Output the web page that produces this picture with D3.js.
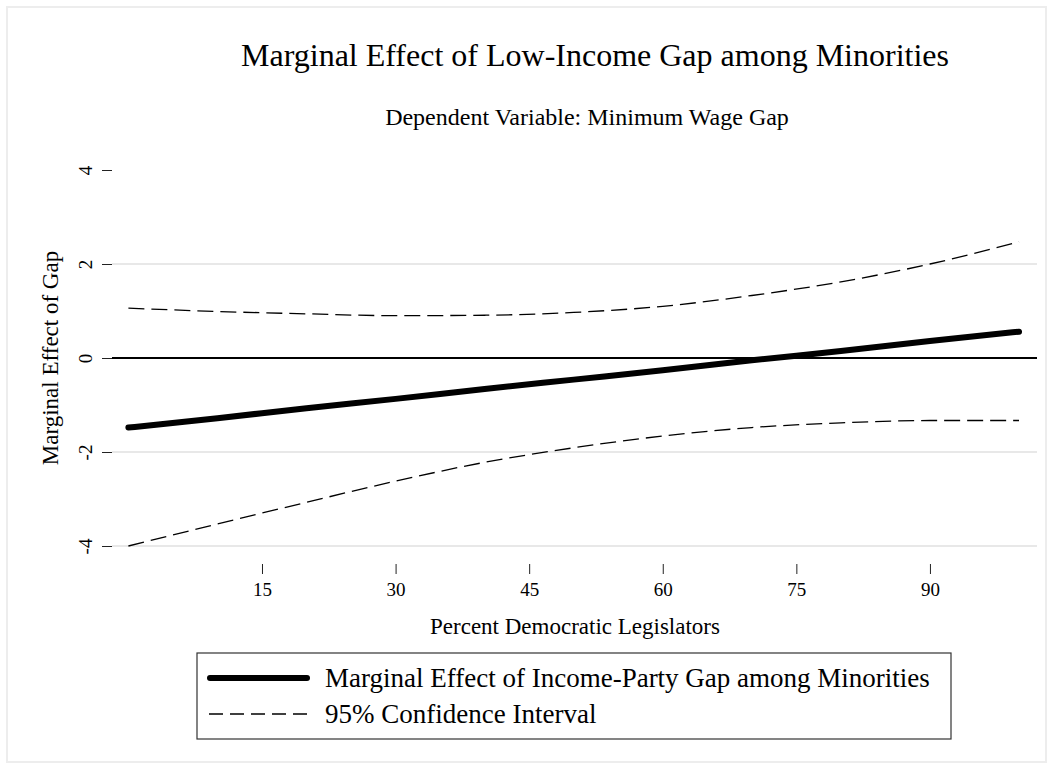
<!DOCTYPE html>
<html>
<head>
<meta charset="utf-8">
<script src="https://cdn.jsdelivr.net/npm/d3@7"></script>
<style>
  html, body { margin: 0; padding: 0; background: #fff; }
  svg { display: block; }
</style>
</head>
<body>
<svg id="chart" width="1053" height="769"></svg>
<script>
// Percent Democratic legislators (x) and the estimated marginal effect with its 95% CI
const pctDem   = [0, 10, 20, 30, 40, 50, 60, 70, 80, 90, 100];
const effect   = [-1.48, -1.28, -1.07, -0.87, -0.66, -0.46, -0.26, -0.05, 0.15, 0.36, 0.56];
const ciUpper  = [1.06, 0.99, 0.94, 0.90, 0.91, 0.97, 1.10, 1.33, 1.62, 2.00, 2.47];
const ciLower  = [-4.00, -3.53, -3.07, -2.62, -2.22, -1.91, -1.66, -1.48, -1.38, -1.33, -1.33];

const xTicks = [15, 30, 45, 60, 75, 90];
const yTicks = [-4, -2, 0, 2, 4];
const yGrid  = [-4, -2, 2];

const titleText    = "Marginal Effect of Low-Income Gap among Minorities";
const subtitleText = "Dependent Variable: Minimum Wage Gap";
const xTitleText   = "Percent Democratic Legislators";
const yTitleText   = "Marginal Effect of Gap";
const legendLabels = ["Marginal Effect of Income-Party Gap among Minorities", "95% Confidence Interval"];

const SERIF = "'Liberation Serif', 'Times New Roman', 'DejaVu Serif', serif";

const svg = d3.select("#chart");

// outer graph frame
svg.append("rect")
  .attr("x", 7).attr("y", 7).attr("width", 1039).attr("height", 755)
  .attr("fill", "#fff").attr("stroke", "#ededed").attr("stroke-width", 2);

// plot region bounds
const plotLeft = 112, plotRight = 1037;

const x = d3.scaleLinear().domain([0, 100]).range([128.4, 1019]);
const y = d3.scaleLinear().domain([-4, 4]).range([546, 170]);

function label(sel, str, size) {
  return sel.append("text")
    .attr("font-family", SERIF).attr("font-size", size).attr("fill", "#000")
    .attr("text-anchor", "middle")
    .text(str);
}

// plain ASCII hyphen for negative tick values
const plainNum = d => String(d);

// horizontal grid lines
svg.append("g").selectAll("line").data(yGrid).join("line")
  .attr("x1", plotLeft).attr("x2", plotRight)
  .attr("y1", d => y(d)).attr("y2", d => y(d))
  .attr("stroke", "#e8e8e8").attr("stroke-width", 2);

// reference line at zero
svg.append("line")
  .attr("x1", plotLeft).attr("x2", plotRight)
  .attr("y1", y(0)).attr("y2", y(0))
  .attr("stroke", "#000").attr("stroke-width", 2);

// y axis: ticks outside the plot region, labels rotated
const yAxis = d3.axisLeft(y).tickValues(yTicks).tickSize(10).tickPadding(8).tickFormat(plainNum);
const gy = svg.append("g").attr("transform", `translate(${plotLeft},0)`).call(yAxis);
gy.attr("font-family", SERIF);
gy.select(".domain").remove();
gy.selectAll(".tick line").attr("stroke", "#222").attr("stroke-width", 1);
gy.selectAll(".tick text")
  .attr("font-size", 19)
  .attr("text-anchor", "middle")
  .attr("x", null).attr("dy", null)
  .attr("transform", "translate(-20,0) rotate(-90)")
  .attr("y", 0);

// x axis below the plot region
const xAxis = d3.axisBottom(x).tickValues(xTicks).tickSize(10).tickPadding(9).tickFormat(plainNum);
const gx = svg.append("g").attr("transform", "translate(0,564)").call(xAxis);
gx.attr("font-family", SERIF);
gx.select(".domain").remove();
gx.selectAll(".tick line").attr("stroke", "#222").attr("stroke-width", 1);
gx.selectAll(".tick text").attr("font-size", 19);

// axis titles
label(svg, xTitleText, 23).attr("x", 575).attr("y", 634);
label(svg, yTitleText, 23).attr("transform", "translate(58,358) rotate(-90)");

// titles
label(svg, titleText, 32).attr("x", 595).attr("y", 66);
label(svg, subtitleText, 24).attr("x", 587).attr("y", 125);

// curves
const line = vals => d3.line().x((d, i) => x(pctDem[i])).y(d => y(d)).curve(d3.curveMonotoneX)(vals);

svg.append("path").attr("d", line(ciUpper))
  .attr("fill", "none").attr("stroke", "#000").attr("stroke-width", 1.3)
  .attr("stroke-dasharray", "16,7");
svg.append("path").attr("d", line(ciLower))
  .attr("fill", "none").attr("stroke", "#000").attr("stroke-width", 1.3)
  .attr("stroke-dasharray", "16,7");
svg.append("path").attr("d", line(effect))
  .attr("fill", "none").attr("stroke", "#000").attr("stroke-width", 6)
  .attr("stroke-linecap", "round");

// legend
const lg = svg.append("g");
lg.append("rect")
  .attr("x", 197).attr("y", 653).attr("width", 754).attr("height", 86)
  .attr("fill", "#fff").attr("stroke", "#333").attr("stroke-width", 1.2);
lg.append("line")
  .attr("x1", 210).attr("x2", 307).attr("y1", 678).attr("y2", 678)
  .attr("stroke", "#000").attr("stroke-width", 6).attr("stroke-linecap", "round");
lg.append("line")
  .attr("x1", 209).attr("x2", 308).attr("y1", 714).attr("y2", 714)
  .attr("stroke", "#000").attr("stroke-width", 1.3).attr("stroke-dasharray", "14,7");
legendLabels.forEach((str, i) => {
  label(lg, str, 27)
    .attr("text-anchor", "start")
    .attr("x", 325).attr("y", 687 + i * 36);
});
</script>
</body>
</html>
